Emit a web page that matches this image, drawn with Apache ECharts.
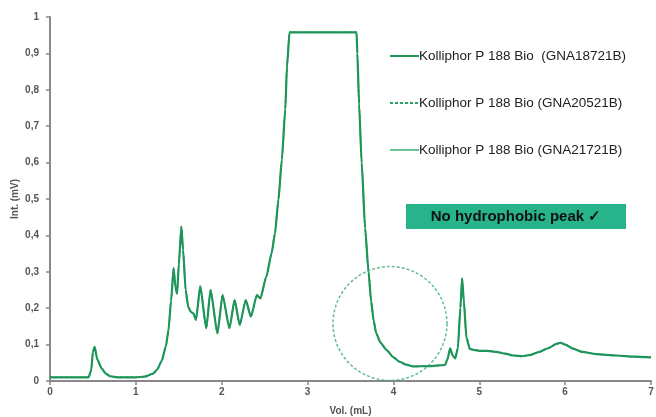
<!DOCTYPE html>
<html>
<head>
<meta charset="utf-8">
<script src="https://cdn.jsdelivr.net/npm/echarts@6/dist/echarts.min.js"></script>
<style>
html,body{margin:0;padding:0;background:#fff;}
#chart{width:656px;height:417px;}
</style>
</head>
<body>
<div id="chart"></div>
<script>
// ---- data ----
const seriesNames = [
  'Kolliphor P 188 Bio  (GNA18721B)',
  'Kolliphor P 188 Bio (GNA20521B)',
  'Kolliphor P 188 Bio (GNA21721B)'
];
const volML = [0, 0.45, 0.48, 0.50, 0.52, 0.55, 0.60, 0.65, 0.70, 0.80, 1.00, 1.10, 1.20, 1.25, 1.30, 1.35, 1.38, 1.41, 1.44, 1.46, 1.48, 1.50, 1.53, 1.55, 1.58, 1.61, 1.64, 1.67, 1.70, 1.75, 1.82, 1.87, 1.95, 2.01, 2.09, 2.15, 2.21, 2.28, 2.34, 2.41, 2.45, 2.52, 2.58, 2.62, 2.66, 2.70, 2.74, 2.76, 2.79, 3.57, 3.58, 3.60, 3.63, 3.67, 3.71, 3.74, 3.77, 3.80, 3.85, 3.92, 4.00, 4.07, 4.15, 4.23, 4.40, 4.60, 4.63, 4.66, 4.69, 4.72, 4.75, 4.78, 4.80, 4.82, 4.85, 4.89, 4.95, 5.00, 5.10, 5.20, 5.30, 5.40, 5.50, 5.60, 5.70, 5.80, 5.90, 5.95, 6.00, 6.10, 6.20, 6.36, 6.60, 6.80, 7.00];
const intMV = [0.01, 0.01, 0.03, 0.08, 0.094, 0.06, 0.035, 0.02, 0.013, 0.01, 0.01, 0.012, 0.02, 0.032, 0.055, 0.095, 0.14, 0.22, 0.31, 0.26, 0.24, 0.32, 0.424, 0.36, 0.25, 0.204, 0.19, 0.186, 0.168, 0.26, 0.145, 0.25, 0.131, 0.236, 0.145, 0.222, 0.154, 0.222, 0.177, 0.236, 0.227, 0.287, 0.35, 0.405, 0.497, 0.607, 0.745, 0.864, 0.958, 0.958, 0.9, 0.76, 0.6, 0.42, 0.30, 0.22, 0.165, 0.131, 0.105, 0.085, 0.065, 0.053, 0.045, 0.04, 0.041, 0.044, 0.06, 0.09, 0.07, 0.062, 0.09, 0.2, 0.282, 0.22, 0.12, 0.088, 0.085, 0.083, 0.083, 0.08, 0.075, 0.07, 0.068, 0.072, 0.08, 0.09, 0.102, 0.105, 0.1, 0.088, 0.08, 0.074, 0.07, 0.067, 0.065];
const xTicks = [0, 1, 2, 3, 4, 5, 6, 7];
const yTicks = [0, 0.1, 0.2, 0.3, 0.4, 0.5, 0.6, 0.7, 0.8, 0.9, 1];
const circleCenter = [3.96, 0.158];
const annotationText = 'No hydrophobic peak \u2713';

const points = volML.map((v, i) => [v, intMV[i]]);
const green = '#1f955a';
const font = 'Liberation Sans, Arial, sans-serif';

const chart = echarts.init(document.getElementById('chart'), null, {renderer: 'canvas'});
const axisLabel = {fontSize: 10, fontWeight: 'bold', color: '#555', fontFamily: font};
chart.setOption({
  animation: false,
  backgroundColor: '#fff',
  grid: {left: 50, right: 5, top: 17, bottom: 36, containLabel: false, outerBoundsMode: 'none'},
  xAxis: {
    type: 'value', min: xTicks[0], max: xTicks[xTicks.length - 1], interval: 1,
    name: 'Vol. (mL)', nameLocation: 'middle', nameGap: 25, nameMoveOverlap: false,
    nameTextStyle: {fontSize: 10, fontWeight: 'bold', color: '#555', fontFamily: font},
    axisLine: {show: true, onZero: false, lineStyle: {color: '#888', width: 2}},
    axisTick: {show: true, length: 4, lineStyle: {color: '#888', width: 1.5}},
    axisLabel: Object.assign({margin: 6, formatter: v => xTicks.includes(v) ? String(v) : ''}, axisLabel),
    splitLine: {show: false}
  },
  yAxis: {
    type: 'value', min: yTicks[0], max: yTicks[yTicks.length - 1], interval: 0.1,
    name: 'Int. (mV)', nameLocation: 'middle', nameGap: 30, nameRotate: 90, nameMoveOverlap: false,
    nameTextStyle: {fontSize: 10, fontWeight: 'bold', color: '#555', fontFamily: font},
    axisLine: {show: true, lineStyle: {color: '#888', width: 2}},
    axisTick: {show: true, length: 4, lineStyle: {color: '#888', width: 1.5}},
    axisLabel: Object.assign({margin: 11, formatter: v => String(Math.round(v * 10) / 10).replace('.', ',')}, axisLabel),
    splitLine: {show: false}
  },
  legend: {
    data: seriesNames,
    orient: 'vertical', left: 384, top: 44,
    itemWidth: 29, itemHeight: 14, itemGap: 33,
    itemStyle: {color: 'rgba(0,0,0,0)', borderWidth: 0, opacity: 0},
    textStyle: {fontSize: 13.5, color: '#222', fontFamily: font, padding: [0, 0, 0, -5]},
    selectedMode: false
  },
  series: [
    {
      name: seriesNames[0], type: 'line', data: points, symbol: 'none',
      smooth: 0.2, smoothMonotone: 'x',
      lineStyle: {color: green, width: 2.2}, itemStyle: {color: green}, z: 3
    },
    {
      name: seriesNames[1], type: 'line', data: points, symbol: 'none',
      smooth: 0.2, smoothMonotone: 'x',
      lineStyle: {color: '#2aa468', width: 1.5, type: [3, 2]}, itemStyle: {color: '#2aa468'}, z: 2
    },
    {
      name: seriesNames[2], type: 'line', data: points, symbol: 'none',
      smooth: 0.2, smoothMonotone: 'x',
      lineStyle: {color: '#6cc496', width: 1}, itemStyle: {color: '#6cc496'}, z: 1
    },
    {
      name: 'circle', type: 'scatter', data: [circleCenter], symbol: 'circle', symbolSize: 114,
      clip: false, silent: true, z: 4,
      itemStyle: {color: 'rgba(0,0,0,0)', borderColor: '#3aae7c', borderWidth: 1.5, borderType: [3, 2]}
    }
  ],
  graphic: [
    {
      type: 'group', left: 406, top: 204, z: 10,
      children: [
        {type: 'rect', shape: {x: 0, y: 0, width: 220, height: 25}, style: {fill: '#27b48b'}},
        {
          type: 'text', x: 110, y: 13,
          style: {
            text: annotationText, align: 'center', verticalAlign: 'middle',
            font: 'bold 15px "Liberation Sans", Arial, sans-serif', fill: '#111'
          }
        }
      ]
    }
  ]
});
</script>
</body>
</html>
